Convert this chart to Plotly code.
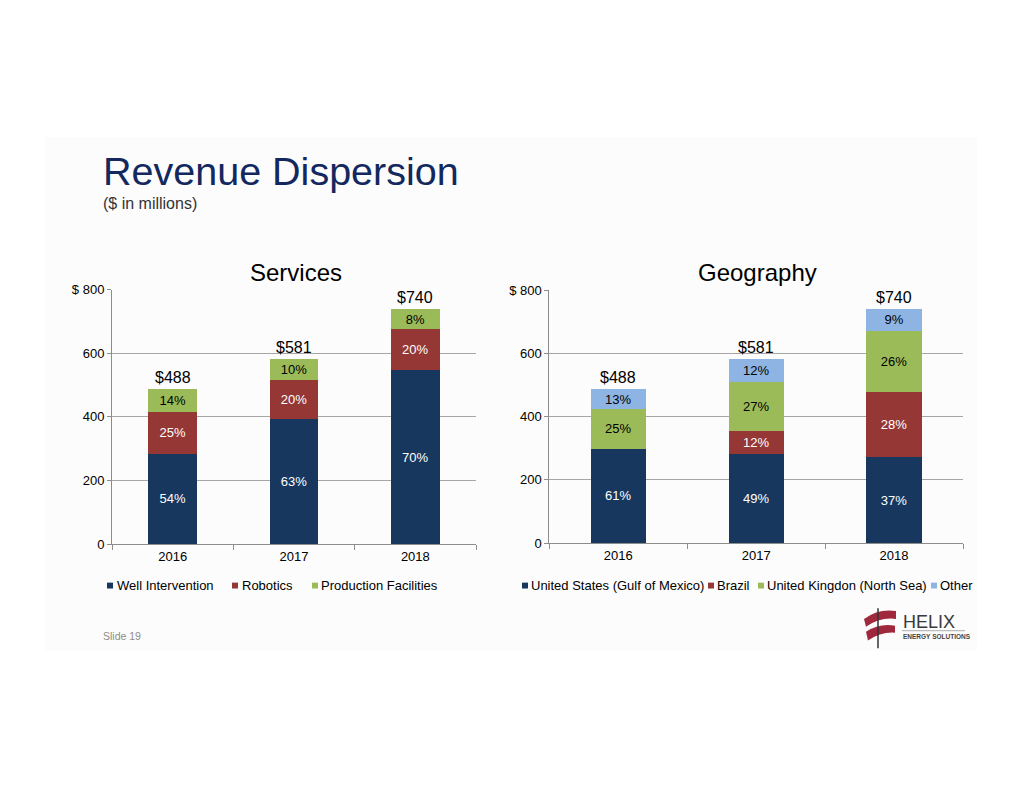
import plotly.graph_objects as go

# ---------------- data ----------------
years = ["2016", "2017", "2018"]

services_names = ["Well Intervention", "Robotics", "Production Facilities"]
well_intervention = [284, 394, 546]
robotics = [132, 122, 129]
production_facilities = [72, 65, 65]
services_pct = [["54%", "63%", "70%"], ["25%", "20%", "20%"], ["14%", "10%", "8%"]]

geo_names = ["United States (Gulf of Mexico)", "Brazil", "United Kingdon (North Sea)", "Other"]
us_gom = [299, 282, 271]
brazil = [0, 71, 208]
uk_north_sea = [124, 155, 193]
other = [65, 73, 68]
geo_pct = [["61%", "49%", "37%"], ["", "12%", "28%"], ["25%", "27%", "26%"], ["13%", "12%", "9%"]]

totals = [488, 581, 740]
total_labels = ["$488", "$581", "$740"]

y_tickvals = [0, 200, 400, 600, 800]
y_ticktext = ["0", "200", "400", "600", "$ 800"]

# ---------------- styles ----------------
W, H = 1008, 775   # kept slightly under the window so the page never overflows
FONT = "Liberation Sans, Arial, sans-serif"
NAVY = "#17375E"
RED = "#953735"
GREEN = "#9BBB59"
LBLUE = "#8EB4E3"
services_colors = [NAVY, RED, GREEN]
services_text = ["white", "white", "black"]
geo_colors = [NAVY, RED, GREEN, LBLUE]
geo_text = ["white", "white", "black", "black"]


def px(x):
    return x / W


def py(y):
    return 1 - y / H


def path(points):
    s = ""
    for cmd, pts in points:
        s += cmd + " " + " ".join(f"{px(a):.5f},{py(b):.5f}" for a, b in pts) + " "
    return s + "Z"


fig = go.Figure()

services_series = [well_intervention, robotics, production_facilities]
for name, vals, pct, col, tcol in zip(services_names, services_series, services_pct,
                                       services_colors, services_text):
    fig.add_trace(go.Bar(
        x=years, y=vals, name=name, text=pct, marker=dict(color=col, line=dict(width=0)),
        textposition="inside", insidetextanchor="middle", textangle=0,
        textfont=dict(color=tcol, size=13, family=FONT),
        xaxis="x", yaxis="y", showlegend=False, hoverinfo="name+y"))

geo_series = [us_gom, brazil, uk_north_sea, other]
for name, vals, pct, col, tcol in zip(geo_names, geo_series, geo_pct, geo_colors, geo_text):
    fig.add_trace(go.Bar(
        x=years, y=vals, name=name, text=pct, marker=dict(color=col, line=dict(width=0)),
        textposition="inside", insidetextanchor="middle", textangle=0,
        textfont=dict(color=tcol, size=13, family=FONT),
        xaxis="x2", yaxis="y2", showlegend=False, hoverinfo="name+y"))

annotations = []
# totals above bars (x given as category index)
for xr, yr in (("x", "y"), ("x2", "y2")):
    for i, (tot, lab) in enumerate(zip(totals, total_labels)):
        annotations.append(dict(x=i, y=tot, xref=xr, yref=yr, text=lab, showarrow=False,
                                yanchor="bottom", yshift=1,
                                font=dict(size=16, color="black", family=FONT)))

# titles
annotations += [
    dict(x=px(101), y=py(167), xref="paper", yref="paper", text="Revenue Dispersion",
         xanchor="left", yanchor="middle", showarrow=False,
         font=dict(size=39.5, color="#13285F", family=FONT)),
    dict(x=px(101), y=py(200), xref="paper", yref="paper", text="($ in millions)",
         xanchor="left", yanchor="middle", showarrow=False,
         font=dict(size=16, color="#333333", family=FONT)),
    dict(x=px(296), y=py(271), xref="paper", yref="paper", text="Services",
         xanchor="center", yanchor="middle", showarrow=False,
         font=dict(size=24, color="black", family=FONT)),
    dict(x=px(757), y=py(271), xref="paper", yref="paper", text="Geography",
         xanchor="center", yanchor="middle", showarrow=False,
         font=dict(size=24, color="black", family=FONT)),
    dict(x=px(101), y=py(641), xref="paper", yref="paper", text="Slide 19",
         xanchor="left", yanchor="middle", showarrow=False,
         font=dict(size=10.5, color="#8C8C8C", family=FONT)),
    dict(x=px(901), y=py(627), xref="paper", yref="paper", text="HELIX",
         xanchor="left", yanchor="middle", showarrow=False,
         font=dict(size=18, color="#3A3A3A", family="Liberation Sans Narrow, " + FONT)),
    dict(x=px(901), y=py(642), xref="paper", yref="paper", text="<b>ENERGY SOLUTIONS</b>",
         xanchor="left", yanchor="middle", showarrow=False,
         font=dict(size=6.5, color="#444444", family="Liberation Sans Narrow, " + FONT)),
]

shapes = [
    dict(type="rect", xref="paper", yref="paper", x0=px(45), x1=px(977), y0=py(656), y1=py(133),
         fillcolor="#FCFCFC", line=dict(width=0), layer="below"),
]

# manual legends
legend_left = [(107, 117), (232, 242), (312, 321)]
legend_right = [(522, 531), (708, 717), (758, 767), (931, 940)]
LEG_Y = 590
for (sx, tx), name, col in zip(legend_left, services_names, services_colors):
    shapes.append(dict(type="rect", xref="paper", yref="paper", x0=px(sx), x1=px(sx + 6),
                       y0=py(LEG_Y + 3), y1=py(LEG_Y - 3), fillcolor=col, line=dict(width=0)))
    annotations.append(dict(x=px(tx - 2), y=py(LEG_Y), xref="paper", yref="paper", text=name,
                            xanchor="left", yanchor="middle", showarrow=False,
                            font=dict(size=13, color="black", family=FONT)))
for (sx, tx), name, col in zip(legend_right, geo_names, geo_colors):
    shapes.append(dict(type="rect", xref="paper", yref="paper", x0=px(sx), x1=px(sx + 6),
                       y0=py(LEG_Y + 3), y1=py(LEG_Y - 3), fillcolor=col, line=dict(width=0)))
    annotations.append(dict(x=px(tx - 2), y=py(LEG_Y), xref="paper", yref="paper", text=name,
                            xanchor="left", yanchor="middle", showarrow=False,
                            font=dict(size=13, color="black", family=FONT)))

# logo swoosh
LOGO_RED = "#A0283C"
shapes += [
    dict(type="path", xref="paper", yref="paper", fillcolor=LOGO_RED, line=dict(width=0),
         path=path([("M", [(864, 624)]), ("Q", [(879, 613), (896, 616)]), ("L", [(896, 624)]),
                    ("Q", [(880, 622), (866, 632)])])),
    dict(type="path", xref="paper", yref="paper", fillcolor=LOGO_RED, line=dict(width=0),
         path=path([("M", [(866, 637)]), ("Q", [(880, 628), (895, 631)]), ("L", [(895, 638)]),
                    ("Q", [(881, 637), (868, 646)])])),
    dict(type="line", xref="paper", yref="paper", x0=px(878), x1=px(878), y0=py(613), y1=py(654),
         line=dict(color="#333333", width=1.5)),
    dict(type="line", xref="paper", yref="paper", x0=px(902), x1=px(965), y0=py(636), y1=py(636),
         line=dict(color="#888888", width=0.7)),
]

axis_common = dict(
    showgrid=False, showline=True, linecolor="#8C8C8C", linewidth=1,
    ticks="outside", tickson="boundaries", ticklen=5, tickcolor="#8C8C8C",
    tickfont=dict(size=13, color="black", family=FONT), type="category",
    categoryorder="array", categoryarray=years, range=[-0.5, 2.5], fixedrange=True,
)
yaxis_common = dict(
    range=[0, 800], tickvals=y_tickvals, ticktext=y_ticktext,
    showgrid=True, gridcolor="#A6A6A6", gridwidth=1, zeroline=False,
    showline=True, linecolor="#8C8C8C", linewidth=1, ticks="outside", ticklen=4,
    tickcolor="#8C8C8C", tickfont=dict(size=13, color="black", family=FONT), fixedrange=True,
)

fig.update_layout(
    width=W, height=H,
    margin=dict(l=0, r=0, t=0, b=0),
    paper_bgcolor="white", plot_bgcolor="rgba(0,0,0,0)",
    barmode="stack", bargap=0.6,
    showlegend=False,
    uniformtext=dict(minsize=13, mode="show"),
    font=dict(family=FONT),
    xaxis=dict(domain=[px(112), px(476)], anchor="y", **axis_common),
    yaxis=dict(domain=[py(547.7), py(288.3)], anchor="x", **yaxis_common),
    xaxis2=dict(domain=[px(549.3), px(963)], anchor="y2", **axis_common),
    yaxis2=dict(domain=[py(546.7), py(288.7)], anchor="x2", **yaxis_common),
    annotations=annotations,
    shapes=shapes,
)

fig.write_html("out.html")
